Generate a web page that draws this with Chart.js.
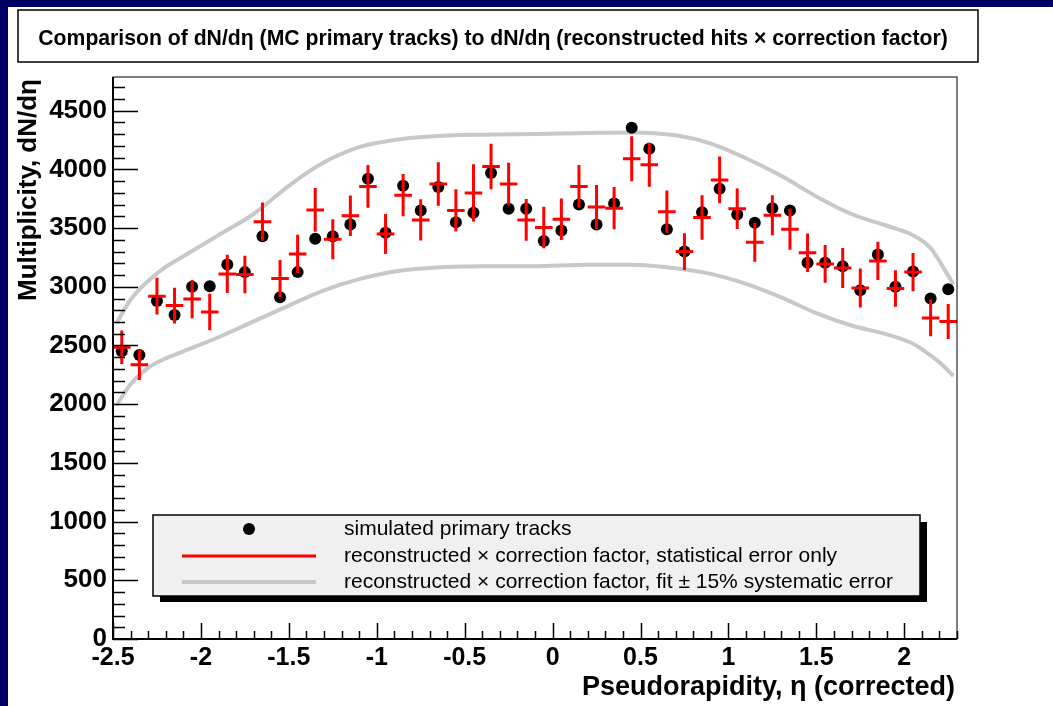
<!DOCTYPE html>
<html>
<head>
<meta charset="utf-8">
<script src="https://cdn.jsdelivr.net/npm/chart.js@4.4.1/dist/chart.umd.min.js"></script>
<style>
  html, body { margin: 0; padding: 0; background: #000064; overflow: hidden; }
  canvas { display: block; }
</style>
</head>
<body>
<canvas id="c" width="1053" height="706"></canvas>
<script>
// bin centres in eta (bin width 0.1)
const etaBins = [-2.45, -2.35, -2.25, -2.15, -2.05, -1.95, -1.85, -1.75, -1.65, -1.55,
                 -1.45, -1.35, -1.25, -1.15, -1.05, -0.95, -0.85, -0.75, -0.65, -0.55,
                 -0.45, -0.35, -0.25, -0.15, -0.05, 0.05, 0.15, 0.25, 0.35, 0.45,
                 0.55, 0.65, 0.75, 0.85, 0.95, 1.05, 1.15, 1.25, 1.35, 1.45,
                 1.55, 1.65, 1.75, 1.85, 1.95, 2.05, 2.15, 2.25];

// simulated primary tracks (black dots)
const simValues = [2450, 2420, 2880, 2760, 3000, 3005, 3190, 3125, 3430, 2910,
                   3125, 3410, 3430, 3530, 3920, 3460, 3860, 3650, 3850, 3550,
                   3630, 3970, 3665, 3665, 3390, 3480, 3700, 3530, 3710, 4355,
                   4175, 3490, 3300, 3635, 3835, 3615, 3545, 3670, 3650, 3205,
                   3205, 3175, 2970, 3275, 3000, 3130, 2900, 2980];

// reconstructed x correction factor (red crosses) and statistical errors
const recoValues = [2485, 2335, 2920, 2840, 2895, 2785, 3110, 3105, 3555, 3070,
                    3280, 3655, 3405, 3605, 3855, 3450, 3780, 3570, 3875, 3650,
                    3800, 4025, 3875, 3570, 3505, 3575, 3855, 3680, 3670, 4090,
                    4040, 3640, 3300, 3590, 3910, 3665, 3380, 3610, 3490, 3290,
                    3195, 3160, 2990, 3220, 2985, 3125, 2735, 2705];
const recoErrors = [142, 128, 156, 152, 162, 156, 163, 160, 163, 159,
                    163, 187, 170, 173, 182, 170, 180, 175, 185, 180,
                    244, 194, 182, 177, 177, 177, 182, 187, 180, 192,
                    187, 180, 156, 189, 199, 173, 166, 170, 175, 165,
                    160, 170, 166, 163, 156, 163, 156, 149];

// fit +/- 15% systematic band (grey curves)
const bandEta = [-2.48, -2.4, -2.3, -2.2, -2.1, -1.9, -1.7, -1.5, -1.3, -1.1,
                 -0.9, -0.7, -0.4, -0.1, 0.2, 0.45, 0.7, 0.9, 1.1, 1.3,
                 1.5, 1.7, 1.9, 2.05, 2.15, 2.22, 2.28];
const bandUpper = [2690, 2890, 3050, 3170, 3260, 3440, 3620, 3860, 4060, 4190,
                   4250, 4280, 4296, 4302, 4310, 4315, 4290, 4220, 4095, 3945,
                   3770, 3620, 3520, 3440, 3330, 3170, 3020];
const bandLower = [1990, 2170, 2310, 2390, 2450, 2570, 2705, 2840, 2970, 3065,
                   3130, 3160, 3174, 3176, 3188, 3188, 3158, 3110, 3025, 2910,
                   2775, 2670, 2595, 2515, 2415, 2330, 2240];

const xTickValues = [-2.5, -2, -1.5, -1, -0.5, 0, 0.5, 1, 1.5, 2];
const xTickLabels = ['-2.5', '-2', '-1.5', '-1', '-0.5', '0', '0.5', '1', '1.5', '2'];
const yTickValues = [0, 500, 1000, 1500, 2000, 2500, 3000, 3500, 4000, 4500];
const yTickLabels = ['0', '500', '1000', '1500', '2000', '2500', '3000', '3500', '4000', '4500'];

const TITLE = 'Comparison of dN/d\u03b7 (MC primary tracks) to dN/d\u03b7 (reconstructed hits \u00d7 correction factor)';
const X_TITLE = 'Pseudorapidity, \u03b7 (corrected)';
const Y_TITLE = 'Multiplicity, dN/d\u03b7';
const LEGEND_LABELS = [
  'simulated primary tracks',
  'reconstructed \u00d7 correction factor, statistical error only',
  'reconstructed \u00d7 correction factor, fit \u00b1 15% systematic error'
];

const FONT = '"Liberation Sans", Arial, Helvetica, sans-serif';
const NAVY = '#000064';
const RED = '#ff0000';
const GREY = '#c8c8c8';
const HALF_BIN = 0.05;

const rootStyle = {
  id: 'rootStyle',
  beforeDraw(chart) {
    const ctx = chart.ctx;
    ctx.save();
    ctx.fillStyle = NAVY;
    ctx.fillRect(0, 0, chart.width, chart.height);
    ctx.fillStyle = '#ffffff';
    ctx.fillRect(8, 7, chart.width - 8, chart.height - 7);
    ctx.restore();
  },
  afterDatasetsDraw(chart) {
    const ctx = chart.ctx;
    const xs = chart.scales.x, ys = chart.scales.y;
    const a = chart.chartArea;

    // red crosses: bin width horizontally, statistical error vertically
    ctx.save();
    ctx.strokeStyle = RED;
    ctx.lineWidth = 3;
    recoValues.forEach((v, i) => {
      const cx = xs.getPixelForValue(etaBins[i]);
      const cy = ys.getPixelForValue(v);
      ctx.beginPath();
      ctx.moveTo(xs.getPixelForValue(etaBins[i] - HALF_BIN), cy);
      ctx.lineTo(xs.getPixelForValue(etaBins[i] + HALF_BIN), cy);
      ctx.moveTo(cx, ys.getPixelForValue(v + recoErrors[i]));
      ctx.lineTo(cx, ys.getPixelForValue(v - recoErrors[i]));
      ctx.stroke();
    });
    ctx.restore();

    // frame
    ctx.save();
    ctx.strokeStyle = '#000';
    ctx.lineWidth = 1;
    ctx.strokeRect(a.left, a.top, a.right - a.left, a.bottom - a.top);
    ctx.lineWidth = 2;
    ctx.beginPath();
    ctx.moveTo(a.left, a.top);
    ctx.lineTo(a.left, a.bottom);
    ctx.lineTo(a.right, a.bottom);
    ctx.stroke();

    // y ticks (major 500, minor 100)
    ctx.lineWidth = 1.5;
    ctx.beginPath();
    for (let v = 0; v <= ys.max; v += 100) {
      const py = Math.round(ys.getPixelForValue(v)) + 0.5;
      const len = v % 500 === 0 ? 25 : 12;
      ctx.moveTo(a.left, py);
      ctx.lineTo(a.left + len, py);
    }
    // x ticks (major 0.5, minor 0.1)
    for (let k = 0; k <= 48; k++) {
      const v = -2.5 + k * 0.1;
      const px = Math.round(xs.getPixelForValue(v)) + 0.5;
      const len = k % 5 === 0 ? 16 : 8;
      ctx.moveTo(px, a.bottom);
      ctx.lineTo(px, a.bottom - len);
    }
    ctx.stroke();

    // tick labels
    ctx.fillStyle = '#000';
    ctx.font = 'bold 26px ' + FONT;
    ctx.textAlign = 'right';
    ctx.textBaseline = 'middle';
    yTickValues.forEach((v, i) => {
      ctx.fillText(yTickLabels[i], 107, ys.getPixelForValue(v));
    });
    ctx.font = 'bold 25px ' + FONT;
    ctx.textAlign = 'center';
    xTickValues.forEach((v, i) => {
      ctx.fillText(xTickLabels[i], xs.getPixelForValue(v), 658);
    });

    // axis titles
    ctx.font = 'bold 27px ' + FONT;
    ctx.textAlign = 'right';
    ctx.fillText(X_TITLE, 955, 688);
    ctx.font = 'bold 26px ' + FONT;
    ctx.save();
    ctx.translate(29, 79);
    ctx.rotate(-Math.PI / 2);
    ctx.fillText(Y_TITLE, 0, 0);
    ctx.restore();

    // title box
    ctx.fillStyle = '#fff';
    ctx.fillRect(18, 10, 960, 52);
    ctx.lineWidth = 1.5;
    ctx.strokeRect(18, 10, 960, 52);
    ctx.fillStyle = '#000';
    ctx.font = 'bold 21.2px ' + FONT;
    ctx.textAlign = 'center';
    ctx.fillText(TITLE, 493, 39);

    // legend box with shadow
    ctx.fillStyle = '#000';
    ctx.fillRect(160, 522, 767, 80);
    ctx.fillStyle = '#f0f0f0';
    ctx.fillRect(153, 515, 767, 81);
    ctx.lineWidth = 1.5;
    ctx.strokeRect(153, 515, 767, 81);

    ctx.fillStyle = '#000';
    ctx.beginPath();
    ctx.arc(249, 529, 6, 0, Math.PI * 2);
    ctx.fill();
    ctx.strokeStyle = RED;
    ctx.lineWidth = 3;
    ctx.beginPath();
    ctx.moveTo(182, 556);
    ctx.lineTo(316, 556);
    ctx.stroke();
    ctx.strokeStyle = GREY;
    ctx.lineWidth = 4;
    ctx.beginPath();
    ctx.moveTo(182, 582);
    ctx.lineTo(316, 582);
    ctx.stroke();

    ctx.fillStyle = '#000';
    ctx.font = '21px ' + FONT;
    ctx.textAlign = 'left';
    [529, 556, 582].forEach((y, i) => ctx.fillText(LEGEND_LABELS[i], 344, y));
    ctx.restore();
  }
};

const toPoints = (xsArr, ysArr) => xsArr.map((x, i) => ({ x: x, y: ysArr[i] }));

new Chart(document.getElementById('c'), {
  type: 'scatter',
  data: {
    datasets: [
      {
        label: 'reco',
        data: toPoints(etaBins, recoValues),
        pointRadius: 0,
        order: 1
      },
      {
        label: 'sim',
        data: toPoints(etaBins, simValues),
        pointRadius: 6,
        pointHoverRadius: 6,
        backgroundColor: '#000',
        borderWidth: 0,
        order: 2
      },
      {
        type: 'line',
        label: 'upper',
        data: toPoints(bandEta, bandUpper),
        borderColor: GREY,
        borderWidth: 4,
        pointRadius: 0,
        tension: 0.4,
        cubicInterpolationMode: 'monotone',
        fill: false,
        order: 3
      },
      {
        type: 'line',
        label: 'lower',
        data: toPoints(bandEta, bandLower),
        borderColor: GREY,
        borderWidth: 4,
        pointRadius: 0,
        tension: 0.4,
        cubicInterpolationMode: 'monotone',
        fill: false,
        order: 3
      }
    ]
  },
  options: {
    responsive: false,
    animation: false,
    events: [],
    layout: { padding: { left: 113, top: 77, right: 96, bottom: 67 } },
    scales: {
      x: { type: 'linear', min: -2.5, max: 2.3, display: false },
      y: { type: 'linear', min: 0, max: 4787, display: false }
    },
    plugins: {
      legend: { display: false },
      tooltip: { enabled: false }
    }
  },
  plugins: [rootStyle]
});
</script>
</body>
</html>
